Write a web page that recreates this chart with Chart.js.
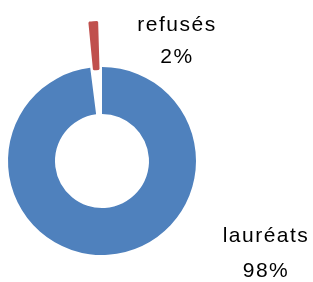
<!DOCTYPE html>
<html>
<head>
<meta charset="utf-8">
<script src="https://cdn.jsdelivr.net/npm/chart.js@4/dist/chart.umd.min.js"></script>
<style>
	html, body { margin: 0; padding: 0; background: #fff; }
	#wrap { width: 313px; height: 282px; }
</style>
</head>
<body>
<div id="wrap"><canvas id="pieChart"></canvas></div>
<script>
// data
var labels = ['lauréats', 'refusés'];
var values = [98, 2];
var colors = ['#4F81BD', '#C0504D'];
var offsets = [0, 96]; // refusés slice pulled out

// text next to each slice: name on one line, percent under it
const sliceLabels = {
	id: 'sliceLabels',
	afterDraw(chart, args, opts) {
		const ctx = chart.ctx;
		const meta = chart.getDatasetMeta(0);
		const total = values.reduce((a, b) => a + b, 0);
		ctx.save();
		ctx.font = opts.font;
		ctx.letterSpacing = opts.letterSpacing;
		ctx.fillStyle = '#000';
		ctx.textAlign = 'center';
		ctx.textBaseline = 'alphabetic';
		for (var i = 0; i < meta.data.length; i++) {
			const arc = meta.data[i];
			const pos = opts.place[i];
			const pct = Math.round(values[i] / total * 100) + '%';
			ctx.fillText(labels[i], arc.x + pos.dx, arc.y + pos.dy);
			ctx.fillText(pct, arc.x + pos.dx, arc.y + pos.dy + pos.gap);
		}
		ctx.restore();
	}
}; //end of sliceLabels

const config = {
	type: 'doughnut',
	data: {
		labels: labels,
		datasets: [{
			data: values,
			backgroundColor: colors,
			borderColor: colors,
			borderWidth: [0, 2],
			offset: offsets
		}]
	},
	options: {
		responsive: true,
		maintainAspectRatio: false,
		animation: false,
		radius: 94,
		cutout: '50%',
		layout: {
			padding: { left: 0, right: 109, top: 40, bottom: 0 }
		},
		plugins: {
			legend: { display: false },
			tooltip: { enabled: false },
			sliceLabels: {
				font: '21px "Liberation Sans", Arial, sans-serif',
				letterSpacing: '1.5px',
				place: [
					{ dx: 164, dy: 81, gap: 35 },
					{ dx: 75, dy: -130, gap: 32 }
				]
			}
		} //end of plugins
	} //end of options
}; //end of config

var myChart = new Chart(document.getElementById('pieChart'), {
	type: config.type,
	data: config.data,
	options: config.options,
	plugins: [sliceLabels]
});
</script>
</body>
</html>
